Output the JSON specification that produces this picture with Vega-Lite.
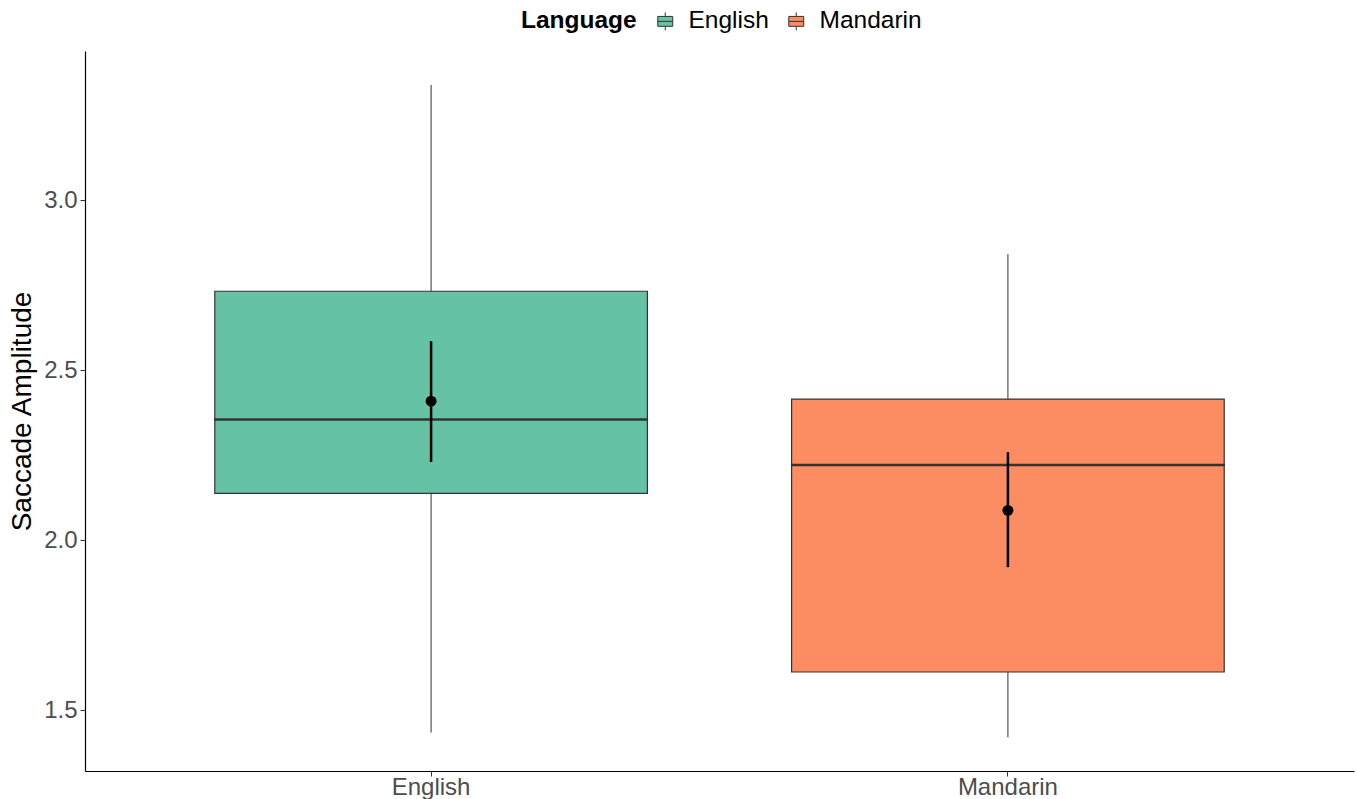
{
  "$schema": "https://vega.github.io/schema/vega-lite/v6.json",
  "autosize": "none",
  "width": 1269,
  "height": 720,
  "padding": {"left": 85, "top": 51, "right": 3, "bottom": 28},
  "background": "white",
  "config": {
    "font": "Liberation Sans",
    "view": {"stroke": null},
    "axis": {
      "grid": false,
      "domainColor": "#000000",
      "domainWidth": 1.2,
      "tickColor": "#333333",
      "tickSize": 5,
      "labelColor": "#4D4D4D",
      "labelFont": "Liberation Sans",
      "titleFont": "Liberation Sans",
      "titleFontWeight": "normal",
      "titleColor": "#000000"
    }
  },
  "data": {
    "values": [
      {"Language": "English", "lower": 1.435, "q1": 2.138, "median": 2.355, "q3": 2.732, "upper": 3.338, "mean": 2.409, "ci_lo": 2.230, "ci_hi": 2.585},
      {"Language": "Mandarin", "lower": 1.421, "q1": 1.613, "median": 2.221, "q3": 2.415, "upper": 2.841, "mean": 2.088, "ci_lo": 1.921, "ci_hi": 2.259}
    ]
  },
  "encoding": {
    "x": {
      "field": "Language",
      "type": "nominal",
      "scale": {"type": "band", "paddingInner": 0.25, "paddingOuter": 0.225},
      "axis": {"title": null, "labelAngle": 0, "labelFontSize": 24, "labelPadding": -1}
    }
  },
  "layer": [
    {
      "mark": {"type": "rule", "color": "#333333", "strokeWidth": 1},
      "encoding": {
        "y": {
          "field": "lower",
          "type": "quantitative",
          "scale": {"domain": [1.322, 3.438], "nice": false, "zero": false},
          "axis": {
            "title": "Saccade Amplitude",
            "titleFontSize": 28,
            "titlePadding": 7,
            "labelFontSize": 24,
            "labelPadding": 3,
            "values": [1.5, 2.0, 2.5, 3.0],
            "format": ".1f"
          }
        },
        "y2": {"field": "upper"}
      }
    },
    {
      "mark": {"type": "bar", "stroke": "#333333", "strokeWidth": 1.2, "opacity": 1},
      "encoding": {
        "y": {"field": "q1", "type": "quantitative"},
        "y2": {"field": "q3"},
        "color": {
          "field": "Language",
          "type": "nominal",
          "scale": {"domain": ["English", "Mandarin"], "range": ["#66C2A5", "#FC8D62"]},
          "legend": {
            "orient": "none",
            "legendX": 436,
            "legendY": -42,
            "direction": "horizontal",
            "title": "Language",
            "titleOrient": "left",
            "titleFontSize": 24.5,
            "titleFontWeight": "bold",
            "titleColor": "#000000",
            "titlePadding": 16,
            "labelFontSize": 24.5,
            "labelColor": "#000000",
            "labelOffset": 11,
            "columnPadding": 15,
            "symbolSize": 324,
            "symbolType": "M-0.83,-0.55H0.83V0.55H-0.83Z M0,-1V-0.55 M0,0.55V1 M-0.83,0H0.83",
            "symbolStrokeColor": "#333333",
            "symbolStrokeWidth": 1,
            "symbolOpacity": 1
          }
        }
      }
    },
    {
      "mark": {"type": "tick", "color": "#333333", "opacity": 1, "size": 434, "thickness": 2.5, "orient": "horizontal"},
      "encoding": {
        "y": {"field": "median", "type": "quantitative"}
      }
    },
    {
      "mark": {"type": "rule", "color": "#000000", "strokeWidth": 2.5},
      "encoding": {
        "y": {"field": "ci_lo", "type": "quantitative"},
        "y2": {"field": "ci_hi"}
      }
    },
    {
      "mark": {"type": "point", "filled": true, "color": "#000000", "opacity": 1, "size": 120},
      "encoding": {
        "y": {"field": "mean", "type": "quantitative"}
      }
    }
  ]
}
